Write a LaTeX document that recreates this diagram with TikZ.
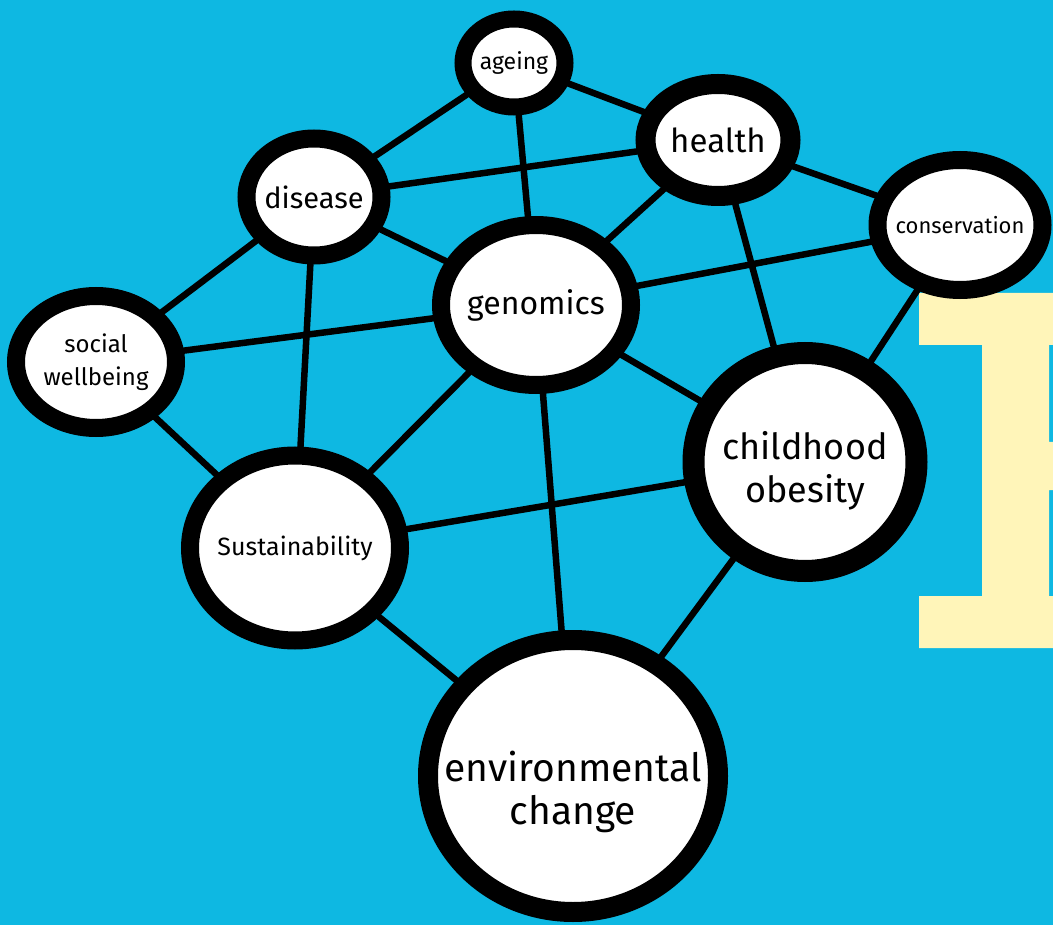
\documentclass[tikz,border=0pt]{standalone}
\usepackage{fontspec}
\setmainfont{Fira Sans}
\usetikzlibrary{shapes.geometric,backgrounds}
\definecolor{sky}{RGB}{14,184,226}
\definecolor{cream}{RGB}{255,245,185}
\tikzset{
  bubble/.style={ellipse, draw=black, fill=white, line width=18pt, inner sep=0pt},
  txt/.style={align=center, text=black, inner sep=0pt},
  link/.style={draw=black, line width=6.5pt, line cap=round},
}
\newcommand{\fs}[2]{\fontsize{#1}{#2}\selectfont}
\begin{document}
\begin{tikzpicture}[x=1pt,y=-1pt]
\begin{scope}[on background layer]
\fill[sky] (0,0) rectangle (1053,925);
\fill[cream] (919,293) -- (1053,293) -- (1053,345) -- (1049,345) -- (1049,442) -- (1053,442)
  -- (1053,490) -- (1049,490) -- (1049,596) -- (1053,596) -- (1053,648) -- (919,648)
  -- (919,596) -- (982,596) -- (982,345) -- (919,345) -- cycle;
\end{scope}
\useasboundingbox (0,0) rectangle (1053,925);

\node[bubble, minimum width=102pt, minimum height=88pt, line width=17pt,
  label={[txt,font=\fs{23}{23}]center:ageing}] (ageing) at (514,63) {};
\node[bubble, minimum width=145pt, minimum height=112pt, line width=20pt,
  label={[txt,font=\fs{33}{33}]center:health}] (health) at (718,140) {};
\node[bubble, minimum width=135pt, minimum height=117pt,
  label={[txt,font=\fs{29}{29}]center:disease}] (disease) at (314,197) {};
\node[bubble, minimum width=165pt, minimum height=130pt,
  label={[txt,font=\fs{22}{22}]center:conservation}] (conservation) at (960,225) {};
\node[bubble, minimum width=190pt, minimum height=160pt,
  label={[txt,font=\fs{32}{32}]center:genomics}] (genomics) at (536,305) {};
\node[bubble, minimum width=160pt, minimum height=132pt,
  label={[txt,font=\fs{24}{33}]center:{social\\wellbeing}}] (social) at (96,362) {};
\node[bubble, minimum width=223pt, minimum height=218pt, line width=22pt,
  label={[txt,font=\fs{36}{43},yshift=-9pt]center:{childhood\\obesity}}] (childhood) at (805,462) {};
\node[bubble, minimum width=210pt, minimum height=185pt,
  label={[txt,font=\fs{25}{25}]center:Sustainability}] (sustain) at (295,548) {};
\node[bubble, minimum width=290pt, minimum height=272pt, line width=20pt,
  label={[txt,font=\fs{39}{43},yshift=-16pt]center:{environmental\\change}}] (environ) at (573,776) {};

\begin{scope}[on background layer]
\draw[link] (ageing) -- (disease);
\draw[link] (ageing) -- (health);
\draw[link] (ageing) -- (genomics);
\draw[link] (disease) -- (health);
\draw[link] (disease) -- (genomics);
\draw[link] (disease) -- (social);
\draw[link] (disease) -- (sustain);
\draw[link] (health) -- (genomics);
\draw[link] (health) -- (childhood);
\draw[link] (health) -- (conservation);
\draw[link] (genomics) -- (conservation);
\draw[link] (genomics) -- (social);
\draw[link] (genomics) -- (sustain);
\draw[link] (genomics) -- (childhood);
\draw[link] (genomics) -- (environ);
\draw[link] (conservation) -- (childhood);
\draw[link] (sustain) -- (childhood);
\draw[link] (sustain) -- (environ);
\draw[link] (social) -- (sustain);
\draw[link] (childhood) -- (environ);
\end{scope}
\end{tikzpicture}
\end{document}
